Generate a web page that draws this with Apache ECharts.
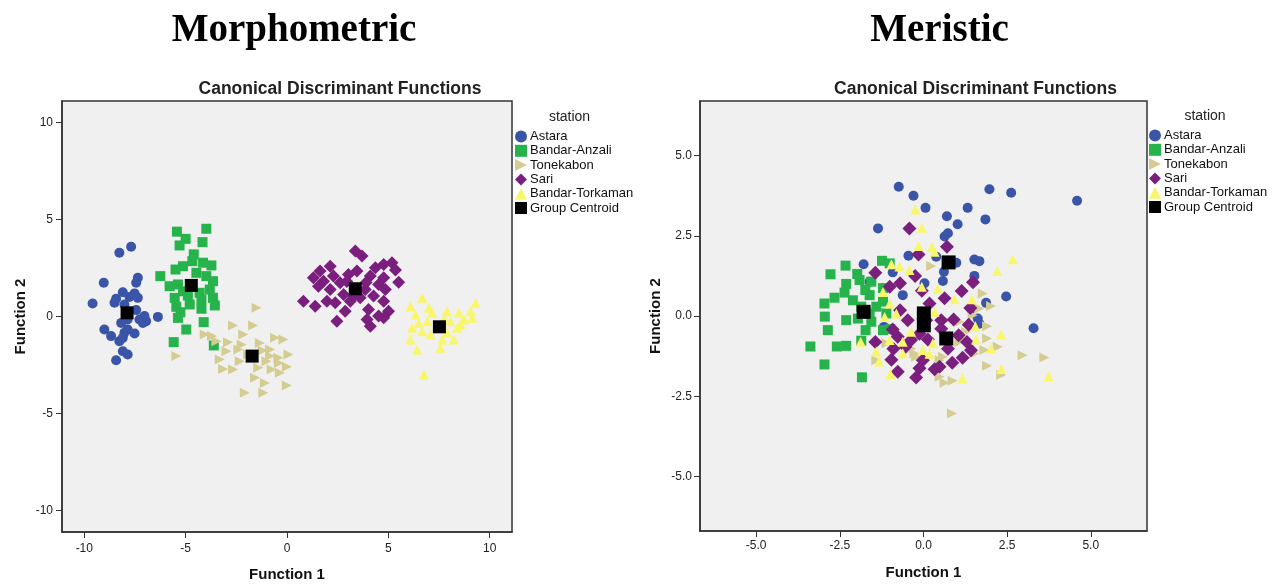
<!DOCTYPE html>
<html>
<head>
<meta charset="utf-8">
<script src="https://cdn.jsdelivr.net/npm/echarts@6/dist/echarts.min.js"></script>
<style>
html,body{margin:0;padding:0;background:#fff;}
#chart{width:1272px;height:584px;}
</style>
</head>
<body>
<div id="chart"></div>
<script>
// ---------- data ----------
const groupNames = ['Astara','Bandar-Anzali','Tonekabon','Sari','Bandar-Torkaman','Group Centroid'];
const leftTicks = [-10,-5,0,5,10];
const rightTicks = [-5,-2.5,0,2.5,5];

// Morphometric panel
const morphAstara = [[-8.27,3.28],[-7.69,3.59],[-9.04,1.74],[-7.36,1.99],[-7.44,1.74],[-9.59,0.67],[-8.10,1.25],[-8.43,0.91],[-7.52,1.19],[-7.36,0.96],[-8.02,0.62],[-8.51,0.71],[-7.44,0.33],[-7.03,0.02],[-6.95,-0.24],[-6.37,-0.02],[-7.86,-0.15],[-7.28,-0.15],[-9.01,-0.67],[-8.68,-1.01],[-8.02,-0.84],[-7.52,-0.88],[-8.10,-1.10],[-8.27,-1.27],[-7.86,-0.67],[-8.10,-1.79],[-7.86,-1.96],[-8.43,-2.25],[-7.77,1.01],[-8.18,-0.33],[-7.11,-0.33]];
const morphAnzali = [[-5.43,4.37],[-3.98,4.52],[-5.00,4.00],[-5.30,3.66],[-4.17,3.83],[-4.60,3.20],[-4.67,2.85],[-5.13,2.59],[-4.14,2.77],[-3.73,2.63],[-5.50,2.42],[-4.47,2.25],[-6.25,2.08],[-3.98,2.08],[-3.65,1.82],[-5.79,1.56],[-5.38,1.65],[-5.13,1.30],[-4.31,1.22],[-3.81,1.39],[-5.54,0.96],[-4.89,1.08],[-3.65,0.96],[-4.22,0.88],[-4.80,0.62],[-5.46,0.50],[-3.56,0.57],[-4.22,0.40],[-5.26,0.22],[-5.38,-0.07],[-4.11,-0.29],[-4.97,-0.67],[-5.59,-1.32],[-3.61,-1.49]];
const morphTonekabon = [[-1.50,0.45],[-2.66,-0.46],[-1.67,-0.46],[-4.06,-0.93],[-2.16,-0.93],[-0.59,-1.10],[-0.18,-1.19],[-3.48,-1.27],[-2.91,-1.32],[-2.24,-1.44],[-1.34,-1.36],[-0.84,-1.70],[-2.99,-1.79],[0.07,-1.96],[-0.43,-2.13],[-3.32,-2.22],[-2.33,-2.30],[-1.01,-2.30],[-1.42,-2.64],[-3.15,-2.70],[-2.66,-2.73],[-0.76,-2.73],[-0.01,-2.59],[-0.35,-2.90],[-1.58,-3.16],[-0.01,-3.56],[-1.09,-3.42],[-2.08,-3.93],[-1.17,-3.93],[-1.92,-1.96],[-0.84,-2.04],[-5.46,-2.04],[-3.70,-1.00],[-2.40,-1.70],[-1.20,-1.75],[-0.40,-2.40]];
const morphSari = [[3.37,3.37],[3.70,3.11],[2.13,2.59],[5.18,2.77],[4.77,2.68],[4.36,2.51],[1.63,2.34],[3.45,2.34],[5.35,2.39],[1.30,1.99],[2.29,2.08],[3.03,2.16],[4.11,2.08],[4.77,1.99],[2.62,1.74],[1.55,1.56],[4.52,1.65],[5.51,1.77],[2.13,1.39],[3.86,1.39],[4.85,1.39],[2.79,1.13],[3.61,0.96],[4.27,1.05],[0.81,0.79],[1.39,0.53],[1.97,0.79],[2.38,0.71],[3.12,0.79],[4.77,0.79],[2.87,0.27],[4.02,0.36],[5.01,0.27],[4.52,0.02],[2.46,-0.24],[3.95,-0.15],[4.11,-0.50],[4.77,-0.07],[3.28,1.05],[1.80,1.82],[2.95,1.80],[3.90,1.75]];
const morphTorkaman = [[6.67,0.96],[9.31,0.71],[6.09,0.53],[7.90,0.27],[8.48,0.19],[9.06,0.27],[7.16,0.19],[6.34,0.10],[8.73,-0.15],[6.50,-0.33],[6.92,-0.24],[8.07,-0.24],[9.14,-0.07],[8.40,-0.58],[6.17,-0.58],[6.67,-0.76],[7.08,-0.93],[7.90,-0.84],[6.09,-1.19],[7.66,-1.19],[8.23,-1.19],[6.42,-1.70],[7.57,-1.61],[6.75,-2.99],[7.41,-0.58],[8.56,-0.41],[7.00,0.45],[7.75,-0.10]];
const morphCentroids = [[-7.89,0.19],[-4.72,1.60],[-1.72,-2.04],[3.37,1.43],[7.52,-0.53]];

// Meristic panel
const merAstara = [[-0.74,4.03],[-0.30,3.75],[0.06,3.37],[-1.36,2.73],[0.70,3.11],[1.32,3.37],[1.97,3.95],[2.62,3.84],[4.59,3.59],[1.02,2.86],[1.85,3.01],[0.63,2.48],[0.73,2.58],[-0.45,1.88],[0.38,1.85],[-1.79,1.61],[-0.92,1.36],[0.98,1.66],[1.52,1.76],[1.67,1.71],[0.61,1.38],[1.52,1.25],[0.03,1.02],[0.58,1.09],[2.47,0.61],[1.87,0.41],[-0.62,0.65],[3.29,-0.38],[1.62,-0.08],[1.67,-0.24],[-1.18,-0.34],[1.42,0.23],[-1.61,1.07]];
const merAnzali = [[-1.24,1.72],[-1.01,1.64],[-2.33,1.57],[-2.78,1.30],[-1.98,1.31],[-1.91,1.12],[-1.56,1.07],[-2.31,1.00],[-1.74,0.81],[-2.36,0.73],[-1.61,0.65],[-2.66,0.57],[-1.21,0.87],[-2.11,0.49],[-2.96,0.39],[-1.86,0.29],[-1.21,0.45],[-1.61,0.08],[-2.95,-0.02],[-2.31,-0.13],[-1.96,-0.08],[-1.56,-0.18],[-2.86,-0.44],[-1.73,-0.44],[-1.21,-0.44],[-0.99,-0.41],[-1.86,-0.77],[-3.38,-0.95],[-2.59,-0.95],[-2.31,-0.93],[-2.96,-1.51],[-1.84,-1.91],[-1.11,0.08],[-1.41,0.29]];
const merTonekabon = [[0.23,1.56],[1.77,0.70],[2.02,0.31],[1.67,0.23],[1.90,-0.32],[1.90,-0.70],[2.22,-0.96],[1.82,-1.06],[2.96,-1.22],[3.61,-1.29],[1.90,-1.55],[2.32,-1.84],[0.63,-2.08],[0.87,-2.02],[0.48,-1.89],[-1.41,-1.38],[-0.37,-1.02],[-0.22,-1.27],[0.58,-1.27],[1.12,-0.70],[1.07,-0.18],[1.52,-1.17],[-1.11,-0.85],[0.85,-3.04],[1.47,0.02],[-0.27,-1.17],[0.48,-1.38],[1.07,-0.81],[1.27,-0.50],[0.68,-0.13]];
const merSari = [[-0.42,2.73],[0.70,2.16],[-0.15,1.92],[-1.44,1.35],[-0.25,1.25],[-0.70,1.02],[1.48,1.05],[-0.05,0.79],[0.63,0.55],[1.14,0.78],[0.18,0.39],[-0.70,0.18],[1.40,0.25],[-0.47,-0.13],[0.90,-0.11],[1.35,-0.27],[-0.92,-0.42],[-0.12,-0.55],[0.53,-0.40],[-1.44,-0.81],[-0.77,-0.65],[-0.37,-0.75],[0.13,-0.73],[1.05,-0.60],[1.30,-0.81],[-0.90,-1.02],[-0.54,-0.96],[0.73,-1.02],[1.42,-1.07],[-0.96,-1.36],[-0.02,-1.38],[0.86,-1.46],[1.17,-1.30],[-0.77,-1.74],[-0.12,-1.63],[0.33,-1.66],[-0.22,-1.92],[0.48,-1.58],[0.53,-0.13],[0.08,-0.13],[-1.01,0.91]];
const merTorkaman = [[-0.25,3.32],[-0.05,2.75],[-0.15,2.18],[0.25,2.16],[0.33,2.00],[2.67,1.77],[-0.72,1.54],[-0.42,1.43],[-0.96,1.61],[2.20,1.40],[-1.21,0.75],[-0.05,0.91],[0.43,0.86],[0.93,0.52],[1.45,0.52],[-1.01,0.39],[-0.81,0.08],[0.33,0.13],[-1.88,-0.80],[-1.01,-0.75],[-0.62,-0.80],[-0.02,-1.06],[0.28,-0.85],[1.55,-0.32],[1.57,-0.73],[2.32,-0.58],[2.02,-1.01],[-1.41,-1.11],[-1.33,-1.42],[-0.62,-1.16],[0.18,-1.18],[-0.99,-1.81],[1.16,-1.95],[2.32,-1.65],[3.74,-1.88],[-0.37,-0.49],[-1.16,-0.03]];
const merCentroids = [[0.75,1.67],[-1.79,0.13],[0.01,-0.29],[0.68,-0.70],[0.01,0.08]];

// ---------- styling ----------
const colors = ['#3a55a8','#26b34b','#d4cc90','#7a1f7e','#f8f66a','#000000'];
const triRight = 'path://M0,0L10,5L0,10Z';
const symbols = ['circle','rect',triRight,'diamond','triangle','rect'];
const morphSizes = [10,10,10,13,10,13];
const merSizes = [10,10,10,14,10,14];
const FONT = '"Liberation Sans", Arial, sans-serif';

function makeSeries(idx, datasets, sizes){
  return datasets.map((d,i)=>({
    name: groupNames[i],
    type: 'scatter',
    xAxisIndex: idx, yAxisIndex: idx,
    data: d,
    symbol: symbols[i],
    symbolSize: sizes[i],
    itemStyle: {color: colors[i], opacity: 1},
    z: i===5 ? 5 : 2,
    emphasis: {disabled: true},
    silent: true
  }));
}

function axis(gridIndex, min, max, ticks, fmt, name, gap, margin){
  return {
    type: 'value', gridIndex, min, max,
    name, nameLocation: 'middle', nameGap: gap,
    nameTextStyle: {fontFamily: FONT, fontWeight: 'bold', fontSize: 15, color: '#111'},
    axisLine: {show: true, onZero: false, lineStyle: {color: '#333', width: 1.5}},
    axisTick: {show: true, length: 6, customValues: ticks, lineStyle: {color: '#333'}},
    axisLabel: {customValues: ticks, formatter: fmt, fontFamily: FONT, fontSize: 12, color: '#222', margin},
    splitLine: {show: false}
  };
}

const legendBase = {
  orient: 'vertical',
  padding: 0,
  itemWidth: 12, itemHeight: 12, itemGap: 1.3,
  selectedMode: false,
  textStyle: {fontFamily: FONT, fontSize: 13, lineHeight: 12, color: '#111', padding: [0,0,0,-2]},
  data: groupNames.map((n,i)=>({name:n, icon: symbols[i], itemStyle:{color: colors[i]}}))
};

const option = {
  animation: false,
  backgroundColor: '#ffffff',
  title: [
    {text: 'Morphometric', left: 289, top: 6, textAlign: 'center',
     textStyle: {fontFamily: '"Liberation Serif", "Times New Roman", serif', fontWeight: 'bold', fontSize: 39, color: '#000'}},
    {text: 'Meristic', left: 934.5, top: 6, textAlign: 'center',
     textStyle: {fontFamily: '"Liberation Serif", "Times New Roman", serif', fontWeight: 'bold', fontSize: 39, color: '#000'}},
    {text: 'Canonical Discriminant Functions', left: 335, top: 75, textAlign: 'center',
     textStyle: {fontFamily: FONT, fontWeight: 'bold', fontSize: 17.5, color: '#222'}},
    {text: 'Canonical Discriminant Functions', left: 970.5, top: 75, textAlign: 'center',
     textStyle: {fontFamily: FONT, fontWeight: 'bold', fontSize: 17.5, color: '#222'}},
    {text: 'station', left: 564.5, top: 105, textAlign: 'center',
     textStyle: {fontFamily: FONT, fontWeight: 'normal', fontSize: 14, color: '#222'}},
    {text: 'station', left: 1200, top: 104, textAlign: 'center',
     textStyle: {fontFamily: FONT, fontWeight: 'normal', fontSize: 14, color: '#222'}}
  ],
  legend: [
    Object.assign({}, legendBase, {left: 515, top: 130}),
    Object.assign({}, legendBase, {left: 1149, top: 129})
  ],
  grid: [
    {left: 62, top: 101, width: 450, height: 431, show: true, backgroundColor: '#f0f0f0', borderColor: '#333', borderWidth: 1.5, containLabel: false, outerBoundsMode: 'none'},
    {left: 700, top: 101, width: 447, height: 430, show: true, backgroundColor: '#f0f0f0', borderColor: '#333', borderWidth: 1.5, containLabel: false, outerBoundsMode: 'none'}
  ],
  xAxis: [
    axis(0, -11.1, 11.1, leftTicks, v=>String(v), 'Function 1', 35, 11),
    axis(1, -6.68, 6.68, rightTicks, v=>v.toFixed(1), 'Function 1', 34, 9)
  ],
  yAxis: [
    axis(0, -11.1, 11.1, leftTicks, v=>String(v), 'Function 2', 34, 9),
    axis(1, -6.7, 6.7, rightTicks, v=>v.toFixed(1), 'Function 2', 37, 8)
  ],
  series: [].concat(
    makeSeries(0, [morphAstara, morphAnzali, morphTonekabon, morphSari, morphTorkaman, morphCentroids], morphSizes),
    makeSeries(1, [merAstara, merAnzali, merTonekabon, merSari, merTorkaman, merCentroids], merSizes)
  )
};

const chart = echarts.init(document.getElementById('chart'), null, {renderer: 'canvas'});
chart.setOption(option);
</script>
</body>
</html>
